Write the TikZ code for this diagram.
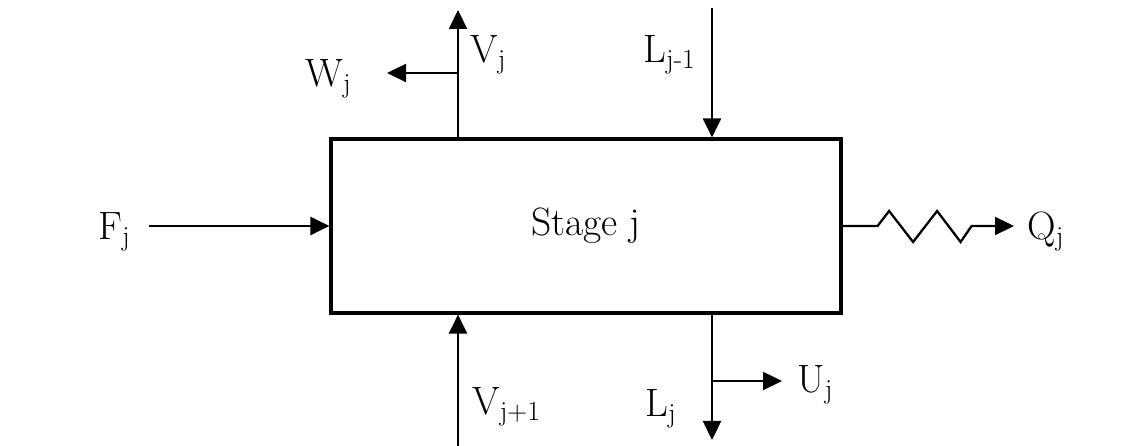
\documentclass[tikz,border=0pt]{standalone}
\usepackage{tikz}
\usetikzlibrary{arrows.meta, positioning}

\begin{document}
\begin{tikzpicture}[
  every node/.style={font=\fontsize{22.5}{26}\selectfont},
  stagebox/.style={draw, line width=1.8pt, minimum width=10.2cm, minimum height=3.48cm, inner sep=0pt},
  lbl/.style={anchor=base west, inner sep=0pt},
  flow/.style={line width=1.3pt, -{Triangle[length=0.38cm, width=0.36cm]}}
]
\useasboundingbox (0,0) rectangle (22.86,8.92);
\node[stagebox] (stage) at (11.72,4.4) {Stage j};
% free ends of the streams
\coordinate (fstart) at (2.98,4.4);
\coordinate (vtop)   at (9.16,8.72);
\coordinate (wsplit) at (9.16,7.46);
\coordinate (wtip)   at (7.74,7.46);
\coordinate (ltop)   at (14.24,8.76);
\coordinate (vbot)   at (9.16,0);
\coordinate (lbot)   at (14.24,0.12);
\coordinate (usplit) at (14.24,1.3);
\coordinate (utip)   at (15.64,1.3);
\coordinate (qtip)   at (20.28,4.4);
% labels
\node[lbl] (lblF)  at (1.96,4.12)  {F\textsubscript{j}};
\node[lbl] (lblW)  at (6.1,7.18)   {W\textsubscript{j}};
\node[lbl] (lblV)  at (9.4,7.66)   {V\textsubscript{j}};
\node[lbl] (lblL)  at (12.86,7.66) {L\textsubscript{j-1}};
\node[lbl] (lblVn) at (9.44,0.62)  {V\textsubscript{j+1}};
\node[lbl] (lblLj) at (12.9,0.58)  {L\textsubscript{j}};
\node[lbl] (lblU)  at (15.94,1.06) {U\textsubscript{j}};
\node[lbl] (lblQ)  at (20.54,4.12) {Q\textsubscript{j}};
% streams
\draw[flow] (fstart) -- (stage.west);
\draw[flow] (stage.north -| vtop) -- (vtop);
\draw[flow] (wsplit) -- (wtip);
\draw[flow] (ltop) -- (stage.north -| ltop);
\draw[flow] (vbot) -- (stage.south -| vbot);
\draw[flow] (stage.south -| lbot) -- (lbot);
\draw[flow] (usplit) -- (utip);
\draw[flow] (stage.east) -- ++(0.7,0) -- ++(0.23,0.3) -- ++(0.48,-0.62) -- ++(0.48,0.62)
  -- ++(0.47,-0.62) -- ++(0.22,0.32) -- (qtip);
\end{tikzpicture}
\end{document}
